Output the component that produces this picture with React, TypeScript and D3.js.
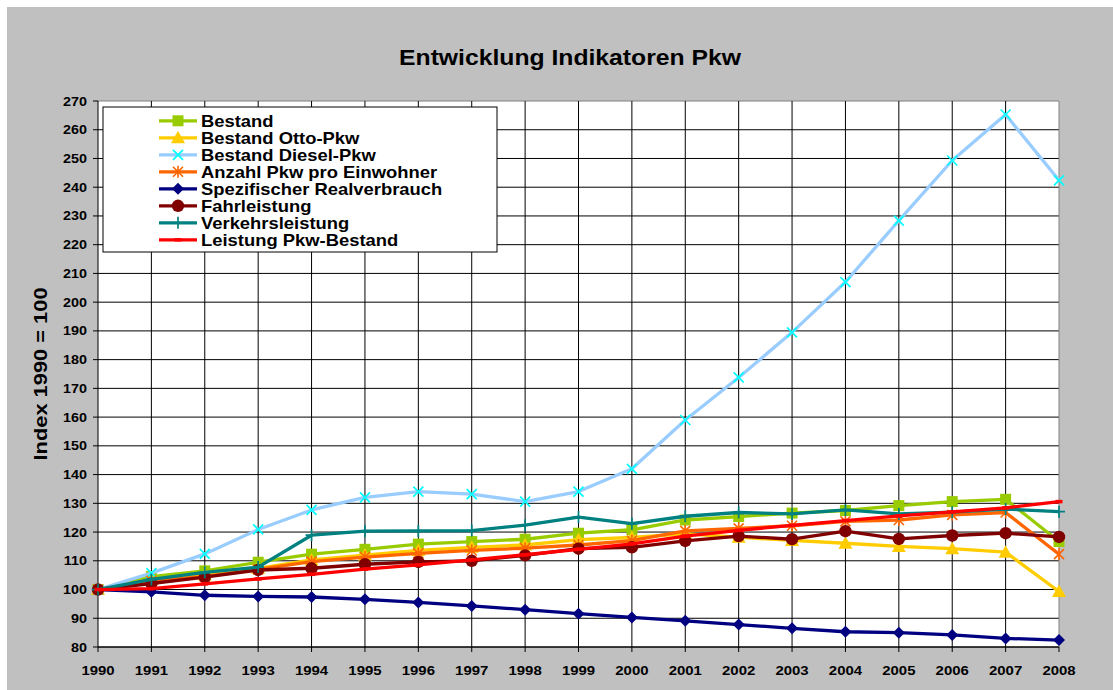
import React from "react";
import * as d3 from "d3";

const years = [1990, 1991, 1992, 1993, 1994, 1995, 1996, 1997, 1998, 1999, 2000, 2001, 2002, 2003, 2004, 2005, 2006, 2007, 2008];
const yTicks = [80, 90, 100, 110, 120, 130, 140, 150, 160, 170, 180, 190, 200, 210, 220, 230, 240, 250, 260, 270];

const bestand = [100, 104.5, 106.5, 109.5, 112.3, 114.0, 115.8, 116.7, 117.5, 119.6, 120.8, 124.2, 125.4, 126.6, 127.5, 129.2, 130.6, 131.4, 116.7];
const otto = [100, 103.5, 105.1, 107.4, 110.3, 112.0, 113.6, 114.7, 115.5, 117.4, 118.1, 119.4, 118.2, 117.1, 116.1, 115.0, 114.2, 113.0, 99.3];
const diesel = [100, 105.7, 112.4, 120.9, 127.7, 132.1, 134.1, 133.2, 130.6, 134.1, 142.0, 159.0, 173.8, 189.5, 207.0, 228.4, 249.3, 265.3, 242.4];
const anzahl = [100, 103.0, 104.5, 107.0, 109.7, 111.3, 112.6, 113.6, 114.4, 115.5, 117.0, 120.4, 121.3, 122.2, 123.7, 124.2, 126.0, 126.8, 112.3];
const spez = [100, 99.2, 98.0, 97.6, 97.4, 96.6, 95.5, 94.3, 93.0, 91.6, 90.3, 89.1, 87.8, 86.5, 85.3, 85.0, 84.2, 83.0, 82.4];
const fahr = [100, 102.1, 104.3, 106.8, 107.4, 108.8, 109.6, 110.0, 111.9, 114.2, 114.7, 116.9, 118.6, 117.5, 120.3, 117.6, 118.8, 119.6, 118.3];
const verkehr = [100, 103.5, 106.0, 107.8, 118.9, 120.3, 120.4, 120.5, 122.4, 125.2, 122.9, 125.5, 126.8, 126.3, 127.7, 126.3, 126.9, 128.0, 127.1];
const leistung = [100, 100.3, 102.0, 103.7, 105.3, 107.1, 108.6, 110.3, 112.1, 114.0, 115.9, 118.6, 120.6, 122.3, 124.0, 125.6, 127.0, 128.4, 130.6];

const seriesNames = [
  "Bestand",
  "Bestand Otto-Pkw",
  "Bestand Diesel-Pkw",
  "Anzahl Pkw pro Einwohner",
  "Spezifischer Realverbrauch",
  "Fahrleistung",
  "Verkehrsleistung",
  "Leistung Pkw-Bestand",
];

type Series = { name: string; values: number[]; line: string; marker: string; shape: string };

const series: Series[] = [
  { name: seriesNames[0], values: bestand, line: "#99cc00", marker: "#99cc00", shape: "square" },
  { name: seriesNames[1], values: otto, line: "#ffcc00", marker: "#ffcc00", shape: "triangle" },
  { name: seriesNames[2], values: diesel, line: "#99ccff", marker: "#00ffff", shape: "x" },
  { name: seriesNames[3], values: anzahl, line: "#ff6600", marker: "#ff6600", shape: "star" },
  { name: seriesNames[4], values: spez, line: "#000080", marker: "#000080", shape: "diamond" },
  { name: seriesNames[5], values: fahr, line: "#800000", marker: "#800000", shape: "circle" },
  { name: seriesNames[6], values: verkehr, line: "#008080", marker: "#008080", shape: "plus" },
  { name: seriesNames[7], values: leistung, line: "#ff0000", marker: "#ff0000", shape: "dash" },
];

const W = 1113;
const H = 690;
const plotL = 98;
const plotR = 1059;
const plotT = 101;
const plotB = 647;
const FONT = "'Liberation Sans', Arial, sans-serif";
const SX = 1.15;

const x = d3.scaleLinear().domain([years[0], years[years.length - 1]]).range([plotL, plotR]);
const y = d3.scaleLinear().domain([80, 270]).range([plotB, plotT]);

function Marker({ shape, color, cx, cy }: { shape: string; color: string; cx: number; cy: number }) {
  const t = `translate(${cx},${cy})`;
  switch (shape) {
    case "square":
      return <path transform={t} d="M-5.5,-5.5H5.5V5.5H-5.5Z" fill={color} />;
    case "triangle":
      return <path transform={t} d="M0,-7L7,5.5H-7Z" fill={color} />;
    case "x":
      return <path transform={t} d="M-5,-5L5,5M-5,5L5,-5" stroke={color} strokeWidth={1.7} fill="none" />;
    case "star":
      return <path transform={t} d="M-5,-5L5,5M-5,5L5,-5M0,-6L0,6" stroke={color} strokeWidth={1.6} fill="none" />;
    case "diamond":
      return <path transform={t} d="M0,-6L6,0L0,6L-6,0Z" fill={color} />;
    case "circle":
      return <circle cx={cx} cy={cy} r={6.2} fill={color} />;
    case "plus":
      return <path transform={t} d="M-6,0L6,0M0,-6L0,6" stroke={color} strokeWidth={1.7} fill="none" />;
    case "dash":
      return <path transform={t} d="M-3.5,0L3.5,0" stroke={color} strokeWidth={3.5} fill="none" />;
  }
  return null;
}

function SText({ x0, y0, size, anchor, children, rotate }: any) {
  return (
    <g transform={`translate(${x0},${y0})${rotate ? ` rotate(${rotate})` : ""} scale(${SX},1)`}>
      <text x={0} y={0} fontFamily={FONT} fontWeight="bold" fontSize={size} textAnchor={anchor || "start"} fill="#000">
        {children}
      </text>
    </g>
  );
}

export default function App() {
  const lineGen = d3
    .line<number>()
    .x((_, i) => x(years[i]))
    .y((v) => y(v));

  const legX = 103;
  const legY = 107;
  const legW = 394;
  const legH = 145;
  const rowH = 17.0;
  const row0 = 120.8;

  return (
    <svg width={W} height={H} style={{ position: "absolute", left: 0, top: 0, display: "block" }}>
      <rect x={0} y={0} width={W} height={H} fill="#ffffff" />
      <rect x={7} y={7} width={W - 7} height={H - 7} fill="#c0c0c0" />
      <SText x0={570} y0={65} size={21.5} anchor="middle">
        Entwicklung Indikatoren Pkw
      </SText>

      <rect x={plotL} y={plotT} width={plotR - plotL} height={plotB - plotT} fill="#ffffff" />

      {/* horizontal gridlines */}
      {yTicks.map((t) => (
        <line key={"h" + t} x1={plotL} x2={plotR} y1={y(t)} y2={y(t)} stroke={t === 270 ? "#808080" : "#000"} strokeWidth={1} />
      ))}
      {/* vertical gridlines */}
      {years.slice(1).map((yr) => (
        <line key={"v" + yr} x1={x(yr)} x2={x(yr)} y1={plotT} y2={plotB} stroke={yr === 2008 ? "#808080" : "#000"} strokeWidth={1} />
      ))}

      {/* axes */}
      <line x1={plotL} x2={plotL} y1={plotT} y2={plotB} stroke="#000" strokeWidth={1} />
      <line x1={plotL} x2={plotR} y1={plotB} y2={plotB} stroke="#000" strokeWidth={1} />
      {yTicks.map((t) => (
        <line key={"yt" + t} x1={plotL - 5} x2={plotL} y1={y(t)} y2={y(t)} stroke="#000" />
      ))}
      {years.map((yr) => (
        <line key={"xt" + yr} x1={x(yr)} x2={x(yr)} y1={plotB} y2={plotB + 5} stroke="#000" />
      ))}
      {yTicks.map((t) => (
        <SText key={"yl" + t} x0={87} y0={y(t) + 4.5} size={12.5} anchor="end">
          {t}
        </SText>
      ))}
      {years.map((yr) => (
        <SText key={"xl" + yr} x0={x(yr)} y0={675} size={13} anchor="middle">
          {yr}
        </SText>
      ))}
      <SText x0={47} y0={374} size={19} anchor="middle" rotate={-90}>
        Index 1990 = 100
      </SText>

      {/* series */}
      {series.map((s) => (
        <g key={s.name}>
          <path d={lineGen(s.values)!} fill="none" stroke={s.line} strokeWidth={3.3} strokeLinejoin="round" />
          {s.values.map((v, i) => (
            <Marker key={i} shape={s.shape} color={s.marker} cx={x(years[i])} cy={y(v)} />
          ))}
        </g>
      ))}

      {/* legend */}
      <rect x={legX} y={legY} width={legW} height={legH} fill="#ffffff" stroke="#000" strokeWidth={1} />
      {series.map((s, i) => {
        const cy = row0 + i * rowH;
        return (
          <g key={"lg" + s.name}>
            <line x1={159} x2={197} y1={cy} y2={cy} stroke={s.line} strokeWidth={3.3} />
            <Marker shape={s.shape} color={s.marker} cx={178} cy={cy} />
            <SText x0={201} y0={cy + 5.8} size={16} anchor="start">
              {s.name}
            </SText>
          </g>
        );
      })}
    </svg>
  );
}
